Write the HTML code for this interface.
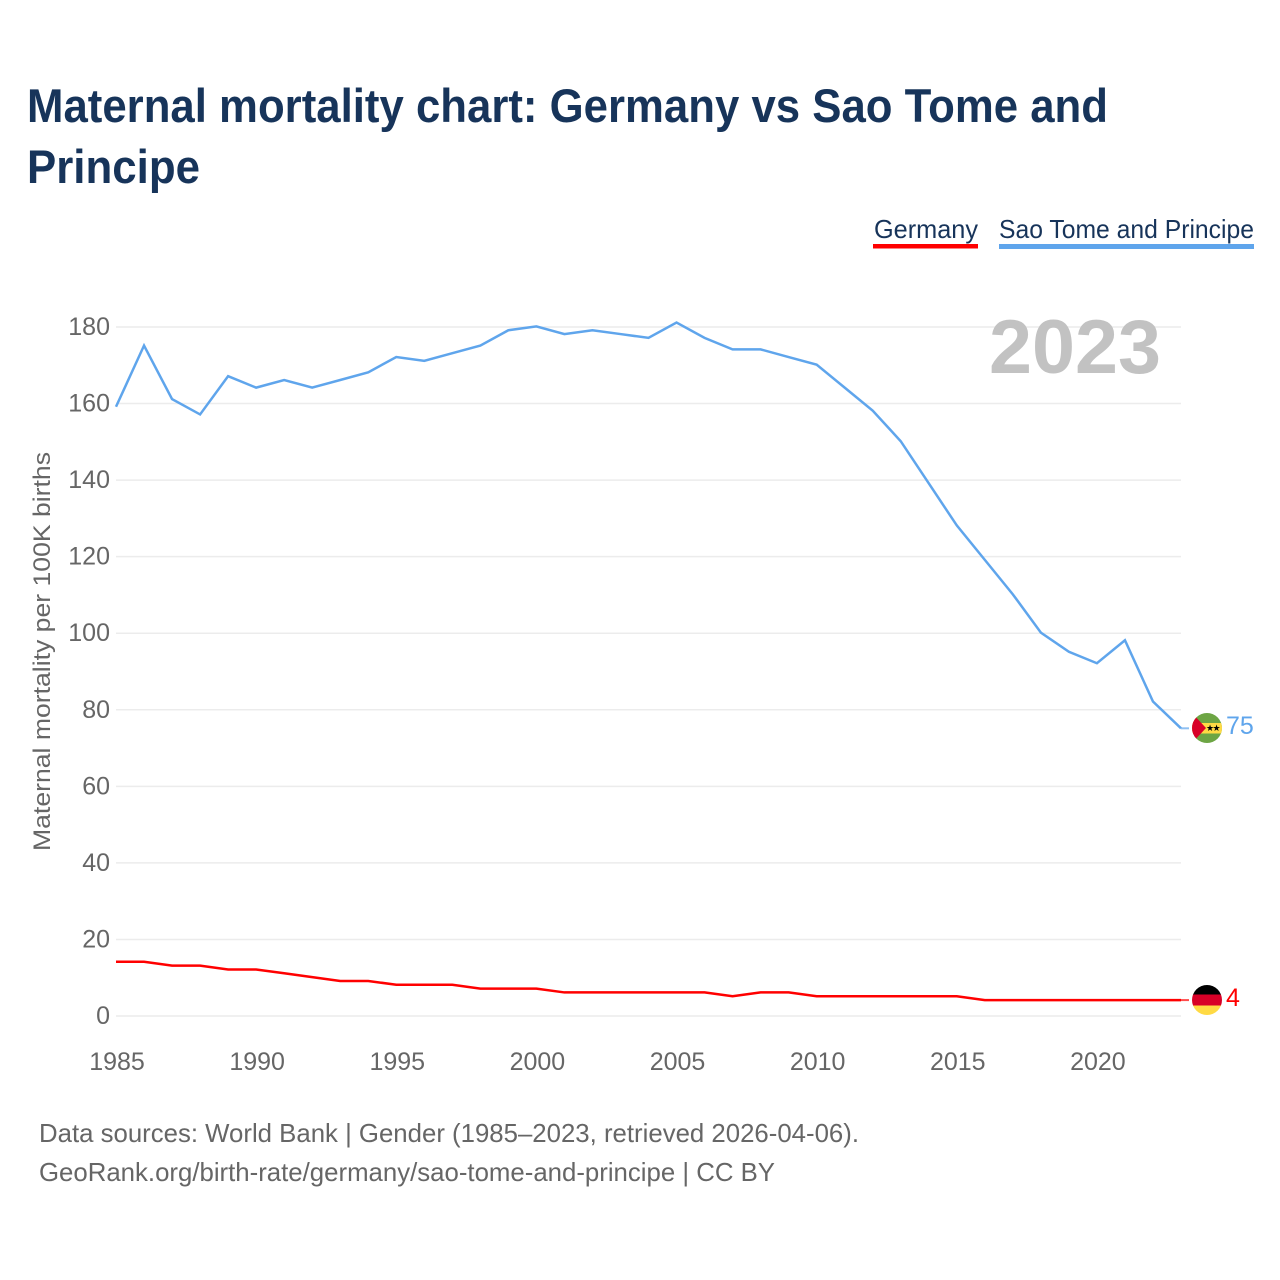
<!DOCTYPE html>
<html lang="en">
<head>
<meta charset="utf-8">
<title>Maternal mortality chart: Germany vs Sao Tome and Principe</title>
<style>
html,body{margin:0;padding:0;background:#fff;}
svg{display:block;font-family:"Liberation Sans",sans-serif;}
</style>
</head>
<body>
<svg id="chart" xmlns="http://www.w3.org/2000/svg" width="1280" height="1280" viewBox="0 0 1280 1280">
  <defs>
    <clipPath id="flag-clip-stp"><circle cx="1207" cy="728" r="15"/></clipPath>
    <clipPath id="flag-clip-de"><circle cx="1207" cy="1000" r="15"/></clipPath>
  </defs>
  <rect width="1280" height="1280" fill="#fff"/>
  <text x="27" y="122" font-size="47" font-weight="700" fill="#17345a" textLength="1081" lengthAdjust="spacingAndGlyphs">Maternal mortality chart: Germany vs Sao Tome and</text>
  <text x="27" y="183" font-size="47" font-weight="700" fill="#17345a" textLength="173" lengthAdjust="spacingAndGlyphs">Principe</text>

  <g>
    <text x="874" y="238" font-size="26" fill="#17345a" textLength="104" lengthAdjust="spacingAndGlyphs">Germany</text>
    <rect x="873" y="244" width="105" height="4.5" fill="#ff0000"/>
    <text x="999" y="238" font-size="26" fill="#17345a" textLength="255" lengthAdjust="spacingAndGlyphs">Sao Tome and Principe</text>
    <rect x="999" y="244" width="255" height="5" fill="#5fa5ec"/>
  </g>

  <g id="grid"></g>
  <g id="yticks"></g>
  <g id="xticks"></g>

  <text x="0" y="0" transform="translate(50 651.5) rotate(-90)" text-anchor="middle" font-size="24" fill="#666" textLength="399" lengthAdjust="spacingAndGlyphs">Maternal mortality per 100K births</text>

  <text x="989" y="373" font-size="76" font-weight="700" fill="#c2c2c2" textLength="172" lengthAdjust="spacingAndGlyphs">2023</text>

  <g id="lines" transform="translate(0 -0.6)"></g>

  <g clip-path="url(#flag-clip-stp)">
    <rect x="1192" y="713" width="30" height="30" fill="#6da544"/>
    <rect x="1192" y="723" width="30" height="10.500" fill="#ffda44"/>
    <polygon points="1192,713 1206,728 1192,743" fill="#d80027"/>
  </g>
  <text x="1210" y="731" font-size="9" text-anchor="middle" fill="#000">★</text>
  <text x="1216.500" y="731" font-size="9" text-anchor="middle" fill="#000">★</text>

  <g clip-path="url(#flag-clip-de)">
    <rect x="1192" y="985" width="30" height="9.500" fill="#000"/>
    <rect x="1192" y="994.500" width="30" height="11" fill="#d80027"/>
    <rect x="1192" y="1005.500" width="30" height="10" fill="#ffda44"/>
  </g>

  <text x="1226" y="734" font-size="25" fill="#5fa5ec">75</text>
  <text x="1226" y="1006" font-size="25" fill="#ff0000">4</text>

  <text x="39" y="1142" font-size="26" fill="#666" textLength="820" lengthAdjust="spacingAndGlyphs">Data sources: World Bank | Gender (1985–2023, retrieved 2026-04-06).</text>
  <text x="39" y="1181" font-size="26" fill="#666" textLength="736" lengthAdjust="spacingAndGlyphs">GeoRank.org/birth-rate/germany/sao-tome-and-principe | CC BY</text>
</svg>
<script>
const years = [1985,1986,1987,1988,1989,1990,1991,1992,1993,1994,1995,1996,1997,1998,1999,2000,2001,2002,2003,2004,2005,2006,2007,2008,2009,2010,2011,2012,2013,2014,2015,2016,2017,2018,2019,2020,2021,2022,2023];
const saoTomeValues = [159,175,161,157,167,164,166,164,166,168,172,171,173,175,179,180,178,179,178,177,181,177,174,174,172,170,164,158,150,139,128,119,110,100,95,92,98,82,75];
const germanyValues = [14,14,13,13,12,12,11,10,9,9,8,8,8,7,7,7,6,6,6,6,6,6,5,6,6,5,5,5,5,5,5,4,4,4,4,4,4,4,4];
const yTickValues = [0,20,40,60,80,100,120,140,160,180];
const xTickValues = [1985,1990,1995,2000,2005,2010,2015,2020];

const NS = 'http://www.w3.org/2000/svg';
const plotLeft = 116, plotRight = 1181, plotBottom = 1016, plotTop = 327;
const xScale = function (v) { return plotLeft + (v - 1985) * (plotRight - plotLeft) / 38; };
const yScale = function (v) { return plotBottom - v * (plotBottom - plotTop) / 180; };

const gridGroup = document.getElementById('grid');
const yTickGroup = document.getElementById('yticks');
const xTickGroup = document.getElementById('xticks');
const lineGroup = document.getElementById('lines');

yTickValues.forEach(function (v) {
  const gridLine = document.createElementNS(NS, 'line');
  gridLine.setAttribute('x1', plotLeft);
  gridLine.setAttribute('x2', plotRight);
  gridLine.setAttribute('y1', yScale(v));
  gridLine.setAttribute('y2', yScale(v));
  gridLine.setAttribute('stroke', '#ececec');
  gridLine.setAttribute('stroke-width', '1.5');
  
  
  gridGroup.appendChild(gridLine);

  const label = document.createElementNS(NS, 'text');
  label.setAttribute('x', 110);
  label.setAttribute('y', yScale(v) + 8);
  label.setAttribute('text-anchor', 'end');
  label.setAttribute('font-size', '25');
  label.setAttribute('fill', '#666');
  label.textContent = v;
  
  
  yTickGroup.appendChild(label);
});

xTickValues.forEach(function (v) {
  const label = document.createElementNS(NS, 'text');
  label.setAttribute('x', xScale(v) + 1);
  label.setAttribute('y', 1070);
  label.setAttribute('text-anchor', 'middle');
  label.setAttribute('font-size', '25');
  label.setAttribute('fill', '#666');
  label.textContent = v;
  
  
  xTickGroup.appendChild(label);
});

function drawSeries(values, color, name) {
  const points = values.map(function (v, i) {
    return xScale(years[i]).toFixed(2) + ',' + yScale(v).toFixed(2);
  }).join(' ');
  const line = document.createElementNS(NS, 'polyline');
  line.setAttribute('points', points);
  line.setAttribute('fill', 'none');
  line.setAttribute('stroke', color);
  line.setAttribute('stroke-width', '2.5');
  line.setAttribute('stroke-linejoin', 'miter');
  
  
  lineGroup.appendChild(line);

  const last = values[values.length - 1];
  const connector = document.createElementNS(NS, 'line');
  connector.setAttribute('x1', plotRight);
  connector.setAttribute('x2', plotRight + 8);
  connector.setAttribute('y1', yScale(last));
  connector.setAttribute('y2', yScale(last));
  connector.setAttribute('stroke', color);
  connector.setAttribute('stroke-width', '2');
  connector.setAttribute('stroke-opacity', '0.7');
  
  
  lineGroup.appendChild(connector);
}

drawSeries(saoTomeValues, '#5fa5ec', 'line-sao-tome');
drawSeries(germanyValues, '#ff0000', 'line-germany');
</script>
</body>
</html>
